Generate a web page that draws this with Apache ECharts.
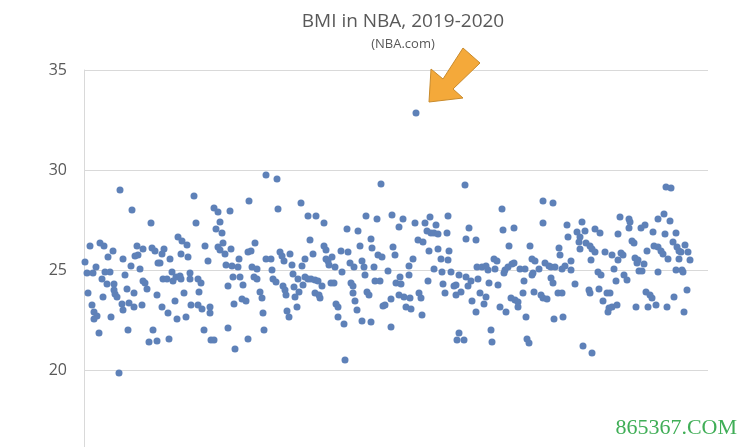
<!DOCTYPE html>
<html>
<head>
<meta charset="utf-8">
<script src="https://cdn.jsdelivr.net/npm/echarts@6/dist/echarts.min.js"></script>
<style>html,body{margin:0;padding:0;background:#fff}#c{width:750px;height:447px}</style>
</head>
<body>
<div id="c"></div>
<script>
const chartTitle = 'BMI in NBA, 2019-2020';
const chartSource = '(NBA.com)';
const yTicks = [15, 20, 25, 30, 35];
const playerCount = 624;
const watermark = '865367.COM';
// [player order, BMI]
const bmiByPlayer = [
[36,29.0],[48,28.0],[67,27.35],[6,26.2],[16,26.35],[20,26.2],[29,25.95],[24,25.65],[39,25.55],[53,26.2],
[59,26.05],[54,25.75],[51,25.7],[68,26.1],[71,25.95],[1,25.4],[12,25.15],[47,25.2],[56,25.05],[74,25.35],
[3,24.85],[9,24.85],[21,24.9],[26,24.9],[41,24.75],[18,24.55],[23,24.3],[30,24.3],[59,24.45],[61,24.35],
[63,24.05],[4,23.85],[30,24.0],[31,23.8],[43,24.05],[33,23.65],[19,23.65],[50,23.85],[73,23.75],[8,23.25],
[38,23.3],[45,23.35],[50,23.15],[58,23.25],[39,23.0],[10,22.9],[13,22.7],[10,22.55],[27,22.65],[15,21.85],
[44,22.0],[69,22.0],[65,21.4],[73,21.45],[35,19.85],
[110,28.7],[112,27.35],[130,28.1],[134,27.9],[146,27.95],[136,27.4],[132,27.05],[138,26.85],[139,26.35],[134,26.15],
[136,26.0],[147,26.05],[141,25.8],[94,26.65],[98,26.45],[103,26.25],[121,26.2],[97,25.8],[104,25.65],[86,25.55],
[80,26.05],[78,25.8],[76,25.35],[124,25.45],[142,25.25],[148,25.2],[88,24.9],[79,24.55],[83,24.55],[89,24.45],
[92,24.65],[96,24.7],[97,24.55],[106,24.85],[106,24.55],[114,24.55],[117,24.35],[149,24.65],[144,24.2],[115,23.9],
[100,23.85],[78,23.15],[91,23.45],[107,23.25],[114,23.25],[118,23.05],[126,23.15],[126,22.85],[84,22.85],[93,22.55],
[102,22.65],[150,23.3],[120,22.0],[144,22.1],[85,21.55],[127,21.5],[130,21.5],[151,21.05],
[182,29.75],[193,29.55],[165,28.45],[194,28.05],[217,28.35],[224,27.7],[171,26.35],[164,25.9],[167,25.95],[196,25.9],
[198,25.7],[206,25.8],[155,25.55],[182,25.55],[187,25.55],[200,25.45],[221,25.55],[226,26.5],[154,25.15],[168,25.15],
[173,25.05],[188,25.0],[208,25.25],[218,25.2],[156,24.65],[170,24.65],[173,24.55],[189,24.55],[192,24.4],[209,24.8],
[214,24.55],[221,24.65],[224,24.55],[159,24.25],[199,24.2],[201,24.0],[210,24.15],[219,24.25],[176,23.9],[202,23.75],
[215,23.9],[211,23.65],[178,23.6],[158,23.55],[162,23.45],[213,23.15],[179,22.85],[203,22.95],[205,22.65],[180,22.0],
[164,21.55],
[297,29.3],[232,27.7],[240,27.35],[282,27.7],[293,27.55],[263,27.05],[274,26.95],[287,26.55],[240,26.2],[242,26.0],
[276,26.2],[288,26.1],[229,25.8],[257,25.95],[264,25.9],[294,25.75],[298,25.65],[242,25.55],[244,25.45],[248,25.65],
[245,25.25],[251,25.15],[258,24.9],[266,25.35],[270,25.15],[278,25.45],[280,25.15],[290,25.15],[281,24.75],[227,24.55],
[231,24.5],[234,24.45],[238,24.2],[247,24.35],[250,24.35],[267,24.35],[269,24.2],[291,24.45],[296,24.45],[231,23.85],
[235,23.75],[236,23.6],[269,23.85],[283,23.9],[285,23.75],[271,23.45],[252,23.3],[254,23.15],[299,23.2],[273,23.0],
[254,22.65],[260,22.3],[278,22.45],[287,22.4],[261,20.5],
[332,32.85],[308,27.75],[319,27.55],[315,27.15],[331,27.35],[341,27.35],[346,27.65],[352,27.25],[364,27.7],[343,26.95],
[347,26.85],[350,26.85],[354,26.8],[363,26.85],[334,26.5],[339,26.4],[309,26.15],[311,25.75],[345,25.95],[354,26.05],
[365,25.95],[329,25.55],[357,25.55],[364,25.5],[325,25.2],[304,24.95],[350,25.05],[358,24.9],[367,24.9],[375,24.75],
[316,24.65],[325,24.75],[312,24.35],[317,24.3],[344,24.45],[359,24.3],[370,24.2],[372,24.25],[315,23.75],[320,23.65],
[326,23.6],[335,23.85],[337,23.6],[361,23.85],[372,23.75],[307,23.55],[301,23.25],[322,23.15],[327,23.05],[338,22.75],
[307,22.15],[375,21.85],[373,21.5],
[381,29.25],[418,28.05],[385,27.1],[419,27.0],[430,27.1],[382,26.55],[392,26.5],[425,26.2],[446,26.2],[410,25.55],
[413,25.45],[448,25.55],[393,25.15],[398,25.15],[402,25.2],[404,25.0],[411,25.05],[421,25.0],[424,25.15],[428,25.3],
[430,25.35],[436,25.05],[441,25.05],[420,24.85],[448,24.75],[382,24.65],[387,24.45],[394,24.55],[405,24.35],[414,24.25],
[440,24.45],[384,24.2],[377,23.9],[396,23.85],[402,23.65],[439,23.85],[427,23.6],[431,23.5],[434,23.4],[388,23.45],
[450,23.9],[400,23.3],[416,23.15],[434,23.15],[392,22.9],[422,22.9],[442,22.65],[407,22.0],[443,21.55],[380,21.5],
[408,21.4],[445,21.35],
[459,28.45],[469,28.35],[459,27.35],[483,27.25],[498,27.4],[493,26.9],[501,26.95],[511,27.05],[516,26.85],[484,26.65],
[496,26.65],[495,26.4],[502,26.35],[506,26.2],[508,26.05],[511,25.9],[521,25.9],[475,26.1],[476,25.75],[496,26.05],
[507,25.5],[451,25.45],[461,25.35],[465,25.2],[467,25.15],[471,25.15],[478,25.05],[481,25.2],[487,25.45],[487,25.0],
[455,25.05],[449,24.85],[514,24.9],[517,24.75],[467,24.6],[469,24.35],[491,24.3],[457,23.75],[459,23.6],[463,23.55],
[474,23.85],[478,23.85],[505,24.0],[506,23.85],[515,24.05],[519,23.45],[523,23.85],[525,23.1],[470,22.55],[479,22.65],
[499,21.2],[508,20.85],
[582,29.15],[587,29.1],[536,27.65],[545,27.55],[546,27.4],[545,27.1],[557,27.1],[561,27.25],[574,27.55],[580,27.8],
[586,27.45],[534,26.8],[569,26.9],[581,26.8],[592,26.85],[548,26.45],[550,26.35],[589,26.4],[570,26.2],[574,26.15],
[577,25.95],[579,25.8],[593,26.15],[595,25.95],[563,25.95],[528,25.75],[537,25.85],[539,25.75],[534,25.5],[551,25.6],
[554,25.5],[553,25.35],[560,25.3],[584,25.55],[595,25.55],[530,25.05],[555,24.95],[558,24.95],[574,24.9],[592,25.0],
[598,25.0],[540,24.75],[543,24.5],[532,24.45],[526,23.85],[562,23.9],[566,23.75],[568,23.6],[590,23.65],[528,23.15],
[533,23.25],[524,22.9],[552,23.15],[564,23.15],[572,23.25],[583,23.15],[600,22.9],
[601,26.25],[597,25.9],[604,25.9],[606,25.5],[599,24.9],[603,24.0]
];

const chart = echarts.init(document.getElementById('c'), null, {renderer: 'canvas'});
const grey = '#595959';
const gridCol = '#d9d9d9';

// find the highlighted outlier (max BMI)
let outlier = bmiByPlayer[0];
bmiByPlayer.forEach(p => { if (p[1] > outlier[1]) outlier = p; });

chart.setOption({
  animation: false,
  backgroundColor: '#ffffff',
  title: {
    text: chartTitle,
    subtext: chartSource,
    left: 398,
    textAlign: 'center',
    top: 7,
    itemGap: 7,
    textStyle: {color: grey, fontSize: 19, fontWeight: 'normal', fontFamily: 'Open Sans'},
    subtextStyle: {color: grey, fontSize: 13, fontFamily: 'Open Sans'}
  },
  grid: {left: 84, top: 70, width: 624, height: 400, containLabel: false, outerBoundsMode: 'none'},
  xAxis: {
    type: 'value', min: 0, max: playerCount,
    axisLine: {show: false}, axisTick: {show: false}, axisLabel: {show: false}, splitLine: {show: false}
  },
  yAxis: {
    type: 'value', min: yTicks[0], max: yTicks[yTicks.length - 1], interval: 5,
    axisLine: {show: true, lineStyle: {color: gridCol, width: 1}},
    axisTick: {show: false},
    axisLabel: {color: grey, fontSize: 16, fontFamily: 'Open Sans', margin: 17},
    splitLine: {lineStyle: {color: gridCol, width: 1}}
  },
  series: [{
    type: 'scatter',
    data: bmiByPlayer,
    symbol: 'circle',
    symbolSize: 7,
    itemStyle: {color: '#5E81B8', opacity: 1}
  }]
});

const [ox, oy] = chart.convertToPixel({gridIndex: 0}, outlier);
const rel = [[13,-11],[15,-44],[27,-34],[47,-65],[64,-50],[37,-24],[47,-15]];
chart.setOption({
  graphic: [
    {
      type: 'polygon',
      shape: {points: rel.map(p => [ox + p[0], oy + p[1]])},
      style: {fill: '#F4A93A', stroke: '#C98B2C', lineWidth: 1},
      z: 100
    },
    {
      type: 'text',
      right: 13, bottom: 8,
      style: {text: watermark, fill: '#40AE57', font: '22px "Liberation Serif"'},
      z: 100
    }
  ]
});
</script>
</body>
</html>
